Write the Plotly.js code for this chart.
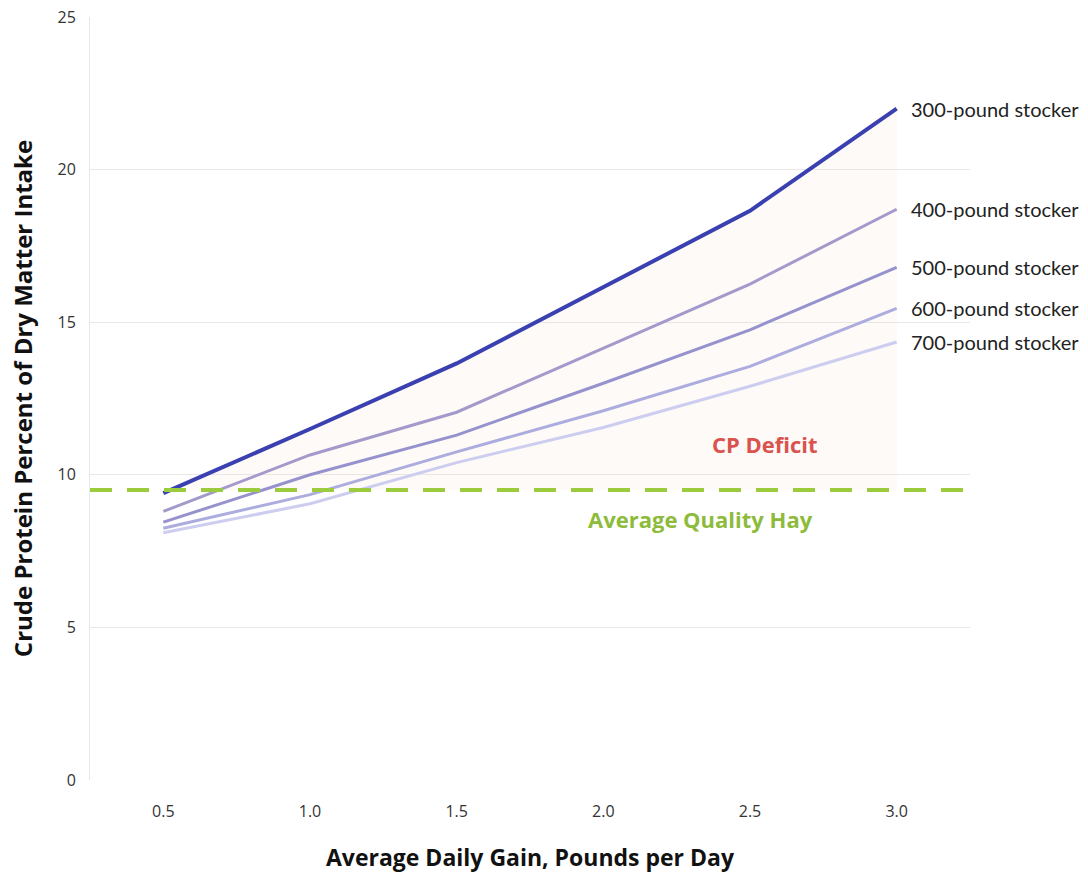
<!DOCTYPE html>
<html>
<head>
<meta charset="utf-8">
<script src="https://cdn.plot.ly/plotly-3.0.1.min.js"></script>
<style>html,body{margin:0;padding:0;background:#fff;}#chart{width:1088px;height:877px;}</style>
</head>
<body>
<div id="chart"></div>
<script>
const gains = [0.5, 1.0, 1.5, 2.0, 2.5, 3.0];
const cp300 = [9.4, 11.5, 13.65, 16.15, 18.65, 22.0];
const cp400 = [8.8, 10.65, 12.05, 14.15, 16.25, 18.7];
const cp500 = [8.45, 10.0, 11.3, 13.0, 14.75, 16.8];
const cp600 = [8.25, 9.35, 10.75, 12.1, 13.55, 15.45];
const cp700 = [8.1, 9.05, 10.4, 11.55, 12.9, 14.35];
const seriesNames = ['300-pound stocker', '400-pound stocker', '500-pound stocker', '600-pound stocker', '700-pound stocker'];
const hayLevel = 9.5;
const hayLabel = 'Average Quality Hay';
const deficitLabel = 'CP Deficit';

const colors = ['#3a40b0', '#a39acb', '#9692cd', '#acacdf', '#cdcdf0'];
const widths = [4, 3, 3, 3, 3];
const allSeries = [cp300, cp400, cp500, cp600, cp700];

const traces = [];
traces.push({x: gains, y: gains.map(() => hayLevel), mode: 'lines', line: {width: 0, color: 'rgba(0,0,0,0)'}, hoverinfo: 'skip', showlegend: false});
traces.push({x: gains, y: cp300, mode: 'lines', line: {width: 0, color: 'rgba(0,0,0,0)'}, fill: 'tonexty', fillcolor: 'rgba(238,205,195,0.11)', hoverinfo: 'skip', showlegend: false});
allSeries.forEach((s, i) => {
  traces.push({x: gains, y: s, mode: 'lines', name: seriesNames[i], line: {color: colors[i], width: widths[i]}, showlegend: false});
});

const annotations = allSeries.map((s, i) => ({
  x: gains[gains.length - 1], y: s[s.length - 1], xref: 'x', yref: 'y',
  text: seriesNames[i], showarrow: false, xanchor: 'left', xshift: 12,
  font: {family: 'Lato, "Open Sans", sans-serif', size: 20, color: '#222'}
}));
annotations.push({x: 2.55, y: 11.0, xref: 'x', yref: 'y', text: '<b>' + deficitLabel + '</b>', showarrow: false,
  font: {family: '"Open Sans", sans-serif', size: 22, color: '#d9534f'}});
annotations.push({x: 2.33, y: 8.55, xref: 'x', yref: 'y', text: '<b>' + hayLabel + '</b>', showarrow: false,
  font: {family: '"Open Sans", sans-serif', size: 22, color: '#8dbb3c'}});

const layout = {
  width: 1088, height: 877,
  margin: {l: 90, r: 118, t: 17, b: 97},
  paper_bgcolor: '#fff', plot_bgcolor: '#fff',
  xaxis: {
    range: [0.25, 3.25], tickvals: gains, tickformat: '.1f', showgrid: false, zeroline: false,
    showline: false, ticks: '', ticklabelstandoff: 20,
    tickfont: {family: '"Open Sans", sans-serif', size: 16, color: '#333'},
    title: {text: '<b>Average Daily Gain, Pounds per Day</b>', standoff: 28,
      font: {family: '"Open Sans", sans-serif', size: 23, color: '#111'}}
  },
  yaxis: {
    range: [0, 25], dtick: 5, showgrid: true, gridcolor: '#e8e8e8', gridwidth: 1, zeroline: false,
    showline: true, linecolor: '#e4e9f0', ticks: '', ticklabelstandoff: 10,
    tickfont: {family: '"Open Sans", sans-serif', size: 16, color: '#333'},
    title: {text: '<b>Crude Protein Percent of Dry Matter Intake</b>', standoff: 18,
      font: {family: '"Open Sans", sans-serif', size: 24, color: '#111'}}
  },
  shapes: [{type: 'line', xref: 'paper', yref: 'y', x0: 0, x1: 1, y0: hayLevel, y1: hayLevel,
    line: {color: '#9ccb3e', width: 4, dash: '22px,15px'}}],
  annotations: annotations,
  showlegend: false
};

Plotly.newPlot('chart', traces, layout, {displayModeBar: false, staticPlot: true});
</script>
</body>
</html>
